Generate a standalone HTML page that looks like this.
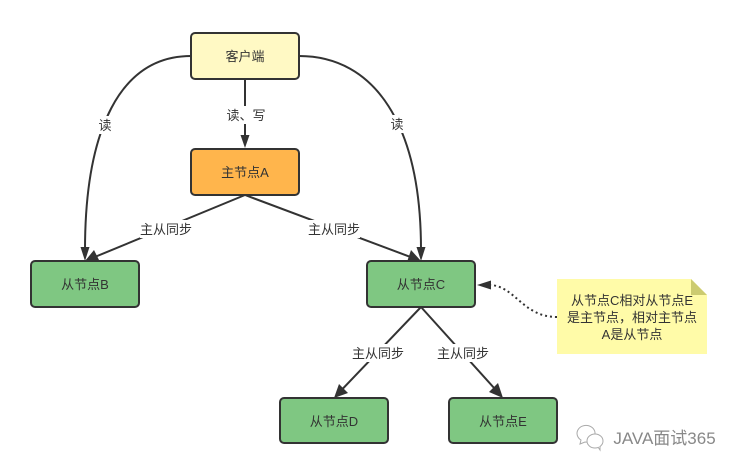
<!DOCTYPE html>
<html>
<head>
<meta charset="utf-8">
<style>
html,body{margin:0;padding:0;background:#fff;width:741px;height:470px;overflow:hidden}
svg{display:block}
text{font-family:"Liberation Sans","Noto Sans CJK SC",sans-serif;font-size:13px;fill:#333;text-anchor:middle}
</style>
</head>
<body>
<svg width="741" height="470" viewBox="0 0 741 470" xmlns="http://www.w3.org/2000/svg">
<rect width="741" height="470" fill="#fff"/>
<g fill="none" stroke="#333" stroke-width="2">
<path d="M191 56C120 56 85 130 85 250"/>
<path d="M299 56C375 56 421 125 421 250"/>
<path d="M245 79V136"/>
<path d="M245 195L96 256.500"/>
<path d="M245 195L410 256.800"/>
<path d="M421 307L342 389.500"/>
<path d="M421 307L495 389"/>
<path d="M557 317C522 317 515 285 489 285" stroke-dasharray="2 3"/>
</g>
<g fill="#333">
<polygon points="85,261 80.500,247 89.500,247"/>
<polygon points="421,261 416.500,247 425.500,247"/>
<polygon points="245,148 240.500,135 249.500,135"/>
<polygon points="85,261 94,250 100,262"/>
<polygon points="421,261 407,262 411,250"/>
<polygon points="334,398 339,384 348,393"/>
<polygon points="503,398 489,392 498,383"/>
<polygon points="477,285 491,280.500 491,289.500"/>
</g>
<g stroke="#333" stroke-width="2">
<rect x="191" y="33" width="108" height="46" rx="4" fill="#fff9c4"/>
<rect x="191" y="149" width="108" height="46" rx="4" fill="#ffb54c"/>
<rect x="31" y="261" width="108" height="46" rx="4" fill="#7fc782"/>
<rect x="367" y="261" width="108" height="46" rx="4" fill="#7fc782"/>
<rect x="280" y="398" width="108" height="45" rx="4" fill="#7fc782"/>
<rect x="449" y="398" width="108" height="45" rx="4" fill="#7fc782"/>
</g>
<polygon points="557,279 691,279 707,295 707,354 557,354" fill="#fffba8"/>
<polygon points="691,279 707,295 691,295" fill="#cccb70"/>
<g fill="#fff">
<rect x="97" y="116" width="16" height="18"/>
<rect x="389" y="115" width="16" height="18"/>
<rect x="226" y="106" width="40" height="18"/>
<rect x="140" y="220" width="53" height="18"/>
<rect x="307" y="220" width="53" height="18"/>
<rect x="352" y="344" width="53" height="18"/>
<rect x="437" y="344" width="53" height="18"/>
</g>
<text x="245" y="61">客户端</text>
<text x="245" y="177">主节点A</text>
<text x="85" y="289">从节点B</text>
<text x="421" y="289">从节点C</text>
<text x="334" y="426">从节点D</text>
<text x="503" y="426">从节点E</text>
<text x="105" y="130">读</text>
<text x="397" y="129">读</text>
<text x="246" y="120">读、写</text>
<text x="166" y="234">主从同步</text>
<text x="334" y="234">主从同步</text>
<text x="378" y="358">主从同步</text>
<text x="463" y="358">主从同步</text>
<text x="632" y="305">从节点C相对从节点E</text>
<text x="632" y="322">是主节点，相对主节点</text>
<text x="632" y="339">A是从节点</text>
<g fill="#fff" stroke="#aaa" stroke-width="1">
<path d="M595 434a9 8 0 1 0 -14 6l-1 4 5 -2a10 8 0 0 0 3 0"/>
<ellipse cx="595" cy="441" rx="8" ry="7"/>
<path d="M598 447l2 3 0 -4"/>
</g>
<text x="664.500" y="444" style="font-size:17px;fill:#888">JAVA面试365</text>
</svg>
</body>
</html>
